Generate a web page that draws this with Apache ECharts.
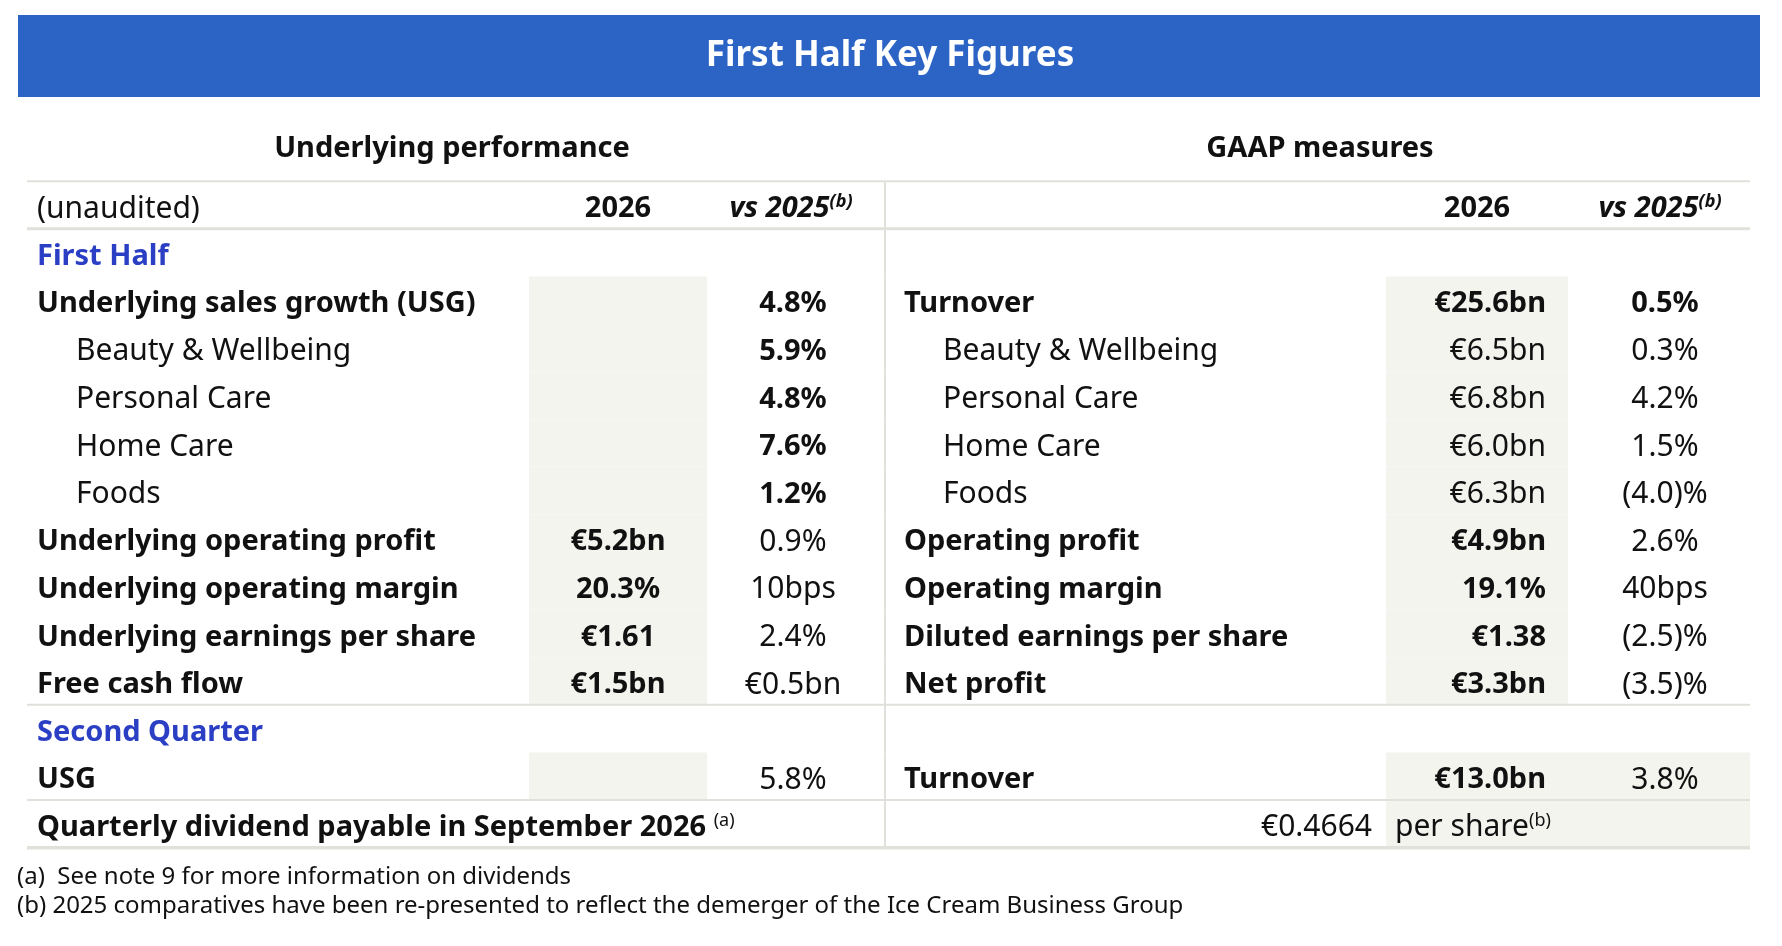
<!DOCTYPE html>
<html>
<head>
<meta charset="utf-8">
<script src="https://cdn.jsdelivr.net/npm/echarts@6/dist/echarts.min.js"></script>
<style>
  html, body { margin: 0; padding: 0; background: #fff; }
  #main { width: 1782px; height: 946px; }
</style>
</head>
<body>
<div id="main"></div>
<script>
var chart = echarts.init(document.getElementById('main'));

// table rows, top to bottom
var rowKeys = ['head', 'firstHalf', 'usg', 'bw', 'pc', 'hc', 'foods', 'op', 'om', 'eps', 'fcf', 'secondQ', 'usgQ', 'dividend'];
var leftLabels = ['(unaudited)', 'First Half', 'Underlying sales growth (USG)', 'Beauty & Wellbeing', 'Personal Care',
  'Home Care', 'Foods', 'Underlying operating profit', 'Underlying operating margin', 'Underlying earnings per share',
  'Free cash flow', 'Second Quarter', 'USG', 'Quarterly dividend payable in September 2026 {sup|(a)}'];
var left2026 = ['2026', '', '', '', '', '', '', '€5.2bn', '20.3%', '€1.61', '€1.5bn', '', '', ''];
var leftVs2025 = ['vs 2025{supi|(b)}', '', '4.8%', '5.9%', '4.8%', '7.6%', '1.2%', '0.9%', '10bps', '2.4%', '€0.5bn', '', '5.8%', ''];
var rightLabels = ['', '', 'Turnover', 'Beauty & Wellbeing', 'Personal Care', 'Home Care', 'Foods', 'Operating profit',
  'Operating margin', 'Diluted earnings per share', 'Net profit', '', 'Turnover', ''];
var right2026 = ['2026', '', '€25.6bn', '€6.5bn', '€6.8bn', '€6.0bn', '€6.3bn', '€4.9bn', '19.1%', '€1.38', '€3.3bn', '', '€13.0bn', ''];
var rightVs2025 = ['vs 2025{supi|(b)}', '', '0.5%', '0.3%', '4.2%', '1.5%', '(4.0)%', '2.6%', '40bps', '(2.5)%', '(3.5)%', '', '3.8%', ''];
var dividendValue = '€0.4664';
var dividendUnit = 'per share{sup|(b)}';
var footnotes = ['(a)  See note 9 for more information on dividends',
  '(b) 2025 comparatives have been re-presented to reflect the demerger of the Ice Cream Business Group'];

var FONT = '"Noto Sans", "Open Sans", sans-serif';
var INK = '#111111';
var SECTION_BLUE = '#2b3fc4';
var SHADE = '#f4f4ef';
var RULE = '#e1e1dc';
var subRows = [3, 4, 5, 6];
var TEXT_DY = 4;

var supRich = {
  sup: { fontSize: 18, fontFamily: FONT, fill: INK, verticalAlign: 'top', lineHeight: 18 },
  supi: { fontSize: 18, fontFamily: FONT, fontWeight: 'bold', fontStyle: 'italic', fill: INK, verticalAlign: 'top', lineHeight: 18 }
};

function cell(x, y, text, opt) {
  opt = opt || {};
  return {
    type: 'text', x: x, y: y + TEXT_DY, z2: 10,
    style: {
      text: text, fill: opt.color || INK, fontFamily: FONT, fontSize: opt.bold ? 29 : 30,
      fontWeight: opt.bold ? 'bold' : 'normal', fontStyle: opt.italic ? 'italic' : 'normal',
      align: opt.align || 'left', verticalAlign: 'middle', lineHeight: 32, rich: supRich
    }
  };
}

function rect(x1, x2, top, bot, color, z2) {
  return { type: 'rect', z2: z2, shape: { x: x1, y: top, width: x2 - x1, height: bot - top }, style: { fill: color } };
}

function renderRow(params, api) {
  var r = api.value(1);
  var y = api.coord([0, r])[1];
  var h = api.size([0, 1])[1];
  var top = y - h / 2, bot = y + h / 2;
  var X = function (v) { return api.coord([v, r])[0]; };
  var isSub = subRows.indexOf(r) >= 0;
  var kids = [];

  // shaded value columns
  if ((r >= 2 && r <= 10) || r === 12) kids.push(rect(X(529), X(707), top, bot, SHADE, 0));
  if (r >= 2 && r <= 10) kids.push(rect(X(1386), X(1568), top, bot, SHADE, 0));
  if (r >= 12) kids.push(rect(X(1386), X(1750), top, bot, SHADE, 0));

  // rules
  kids.push(rect(X(884), X(886), top, bot, RULE, 4));
  if (r === 0) {
    kids.push(rect(X(27), X(1750), top - 1, top + 1, RULE, 5));
    kids.push(rect(X(27), X(1750), bot - 1.5, bot + 1.5, RULE, 5));
  }
  if (r === 10 || r === 12) kids.push(rect(X(27), X(1750), bot - 1, bot + 1, RULE, 5));
  if (r === 13) kids.push(rect(X(27), X(1750), bot - 1.5, bot + 2, RULE, 5));

  // texts
  if (r === 0) {
    kids.push(cell(X(37), y, leftLabels[r], {}));
    kids.push(cell(X(618), y, left2026[r], { bold: true, align: 'center' }));
    kids.push(cell(X(791), y, leftVs2025[r], { bold: true, italic: true, align: 'center' }));
    kids.push(cell(X(1477), y, right2026[r], { bold: true, align: 'center' }));
    kids.push(cell(X(1660), y, rightVs2025[r], { bold: true, italic: true, align: 'center' }));
  } else if (r === 1 || r === 11) {
    kids.push(cell(X(37), y, leftLabels[r], { bold: true, color: SECTION_BLUE }));
  } else if (r === 13) {
    kids.push(cell(X(37), y, leftLabels[r], { bold: true }));
    kids.push(cell(X(1372), y, dividendValue, { align: 'right' }));
    kids.push(cell(X(1395), y, dividendUnit, {}));
  } else {
    kids.push(cell(X(isSub ? 76 : 37), y, leftLabels[r], { bold: !isSub }));
    kids.push(cell(X(618), y, left2026[r], { bold: true, align: 'center' }));
    kids.push(cell(X(793), y, leftVs2025[r], { bold: r >= 2 && r <= 6, align: 'center' }));
    kids.push(cell(X(isSub ? 943 : 904), y, rightLabels[r], { bold: !isSub }));
    kids.push(cell(X(1546), y, right2026[r], { bold: !isSub, align: 'right' }));
    kids.push(cell(X(1665), y, rightVs2025[r], { bold: r === 2, align: 'center' }));
  }
  return { type: 'group', children: kids };
}

var titleText = function (text, left, top, size, weight, align, color) {
  return {
    text: text, left: left, top: top, padding: 0, textAlign: align,
    textStyle: { fontFamily: FONT, fontSize: size, fontWeight: weight, color: color || INK, lineHeight: size + 2 }
  };
};

var option = {
  backgroundColor: '#ffffff',
  animation: false,
  graphic: [{
    type: 'rect', left: 18, top: 15, z: 0,
    shape: { width: 1742, height: 82 }, style: { fill: '#2c64c6' }
  }],
  title: [
    titleText('First Half Key Figures', 890, 38, 35, 'bold', 'center', '#ffffff'),
    titleText('Underlying performance', 452, 133, 29, 'bold', 'center'),
    titleText('GAAP measures', 1320, 133, 29, 'bold', 'center'),
    titleText(footnotes[0], 17, 864, 24, 'normal', 'left'),
    titleText(footnotes[1], 17, 893, 24, 'normal', 'left')
  ],
  grid: { left: 0, right: 0, top: 181.2, bottom: 98.4 },
  xAxis: { type: 'value', min: 0, max: 1782, show: false },
  yAxis: { type: 'category', data: rowKeys, inverse: true, show: false },
  series: [{
    type: 'custom',
    renderItem: renderRow,
    encode: { x: 0, y: 1 },
    data: rowKeys.map(function (k, i) { return [0, i]; }),
    silent: true
  }]
};
chart.setOption(option);
</script>
</body>
</html>
